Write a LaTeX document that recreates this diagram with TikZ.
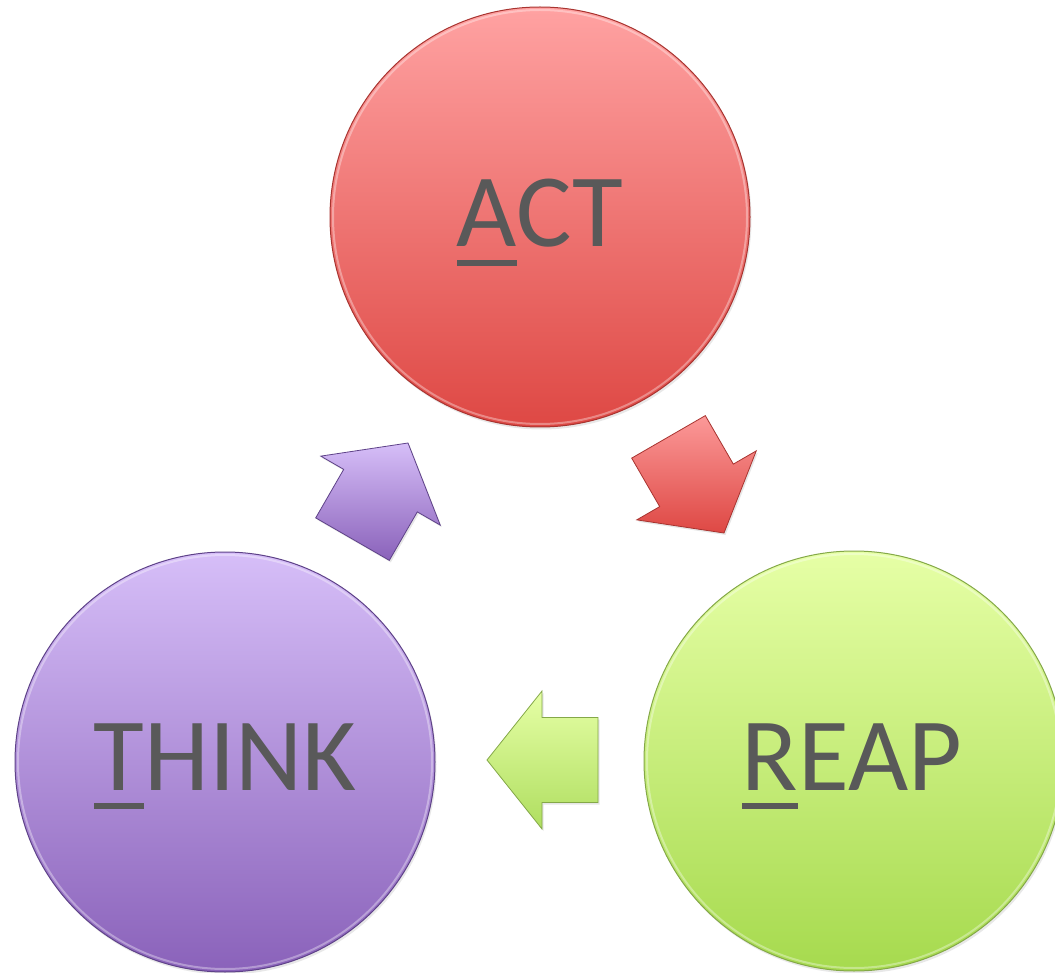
\documentclass[tikz,border=0pt]{standalone}
\usepackage{fontspec}
\setmainfont{Carlito}
\usetikzlibrary{calc,shadows}
\definecolor{txtgray}{HTML}{595959}
\definecolor{redtop}{HTML}{FFA2A2}
\definecolor{redbot}{HTML}{DE4844}
\definecolor{redrim}{HTML}{A83430}
\definecolor{purtop}{HTML}{D6BEF8}
\definecolor{purbot}{HTML}{8A62BA}
\definecolor{purrim}{HTML}{5E4288}
\definecolor{grntop}{HTML}{E6FFA6}
\definecolor{grnbot}{HTML}{A6DA4E}
\definecolor{grnrim}{HTML}{84A848}
\newcommand\ulfirst[1]{\setbox0\hbox{#1}\rlap{\rule[-19pt]{\wd0}{6pt}}#1}
\newcommand\barrow[3]{%
  \path[#3] (#1)
    -- ($(#1)+(#2:-55)+(#2+90:69)$)
    -- ($(#1)+(#2:-55)+(#2+90:42.5)$)
    -- ($(#1)+(#2:-111)+(#2+90:42.5)$)
    -- ($(#1)+(#2:-111)+(#2-90:42.5)$)
    -- ($(#1)+(#2:-55)+(#2-90:42.5)$)
    -- ($(#1)+(#2:-55)+(#2-90:69)$)
    -- cycle;}
\tikzset{
  ball/.style={circle, minimum size=420pt, inner sep=0pt,
    drop shadow={opacity=0.18, shadow xshift=1.5pt, shadow yshift=-2.5pt}},
  redball/.style={ball, top color=redtop, bottom color=redbot, draw=redrim, line width=1pt},
  purball/.style={ball, top color=purtop, bottom color=purbot, draw=purrim, line width=1pt},
  grnball/.style={ball, top color=grntop, bottom color=grnbot, draw=grnrim, line width=1pt},
  lbl/.style={anchor=base, inner sep=0pt, text=txtgray, font=\fontsize{104}{120}\selectfont},
  rim/.style={white, opacity=0.35, line width=2pt},
  redarr/.style={top color=redtop!90!redbot, bottom color=redbot, draw=redrim, line width=0.8pt, line join=miter,
    drop shadow={opacity=0.2, shadow xshift=1.5pt, shadow yshift=-2pt}},
  purarr/.style={top color=purtop, bottom color=purbot, draw=purrim, line width=0.8pt, line join=miter,
    drop shadow={opacity=0.2, shadow xshift=1.5pt, shadow yshift=-2pt}},
  grnarr/.style={top color=grntop, bottom color=grnbot!90!white, draw=grnrim, line width=0.8pt, line join=miter,
    drop shadow={opacity=0.2, shadow xshift=1.5pt, shadow yshift=-2pt}},
}
\begin{document}
\begin{tikzpicture}[x=1pt, y=-1pt]
\useasboundingbox (0,0) rectangle (1055,973);
% circles
\node[redball] (act) at (540,217) {};
\node[purball] (think) at (225,762) {};
\node[grnball] (reap) at (854,761) {};
\draw[rim] (act.center) circle (207pt);
\draw[rim] (think.center) circle (207pt);
\draw[rim] (reap.center) circle (207pt);
% labels
\node[lbl] (actlbl) at (540,247) {\ulfirst{A}CT};
\node[lbl] (thinklbl) at (225,790) {\ulfirst{T}HINK};
\node[lbl] (reaplbl) at (852,790) {\ulfirst{R}EAP};
% block arrows
\coordinate (redtip) at (724,533);
\coordinate (grntip) at (487,760);
\coordinate (purtip) at (408,443);
\barrow{redtip}{60}{redarr}
\barrow{grntip}{180}{grnarr}
\barrow{purtip}{-60}{purarr}
\end{tikzpicture}
\end{document}
